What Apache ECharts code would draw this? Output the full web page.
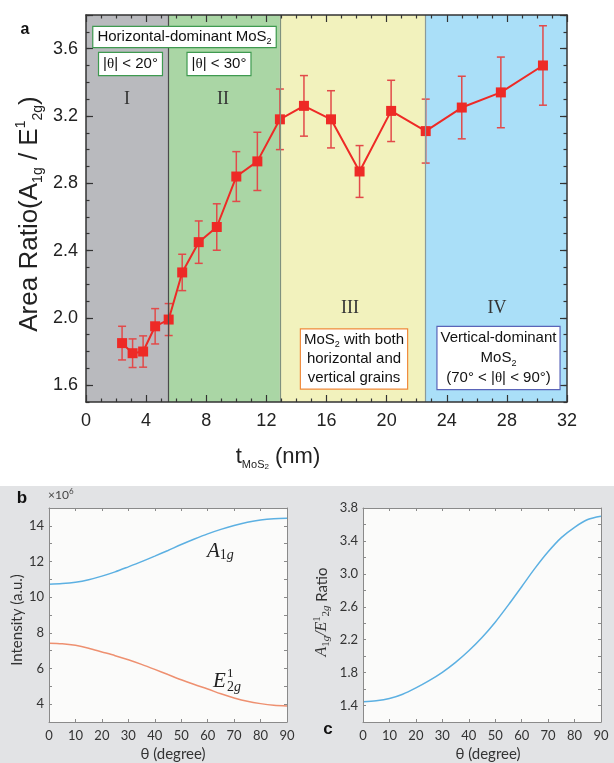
<!DOCTYPE html>
<html><head><meta charset="utf-8">
<script src="https://cdn.jsdelivr.net/npm/echarts@6/dist/echarts.min.js"></script>
<style>html,body{margin:0;padding:0;background:#fff}#c{width:614px;height:763px}</style>
</head><body><div id="c"></div>
<script>
// ---- Panel a data ----
const thickness = [2.4, 3.1, 3.8, 4.6, 5.5, 6.4, 7.5, 8.7, 10.0, 11.4, 12.9, 14.5, 16.3, 18.2, 20.3, 22.6, 25.0, 27.6, 30.4];
const areaRatio = [1.85, 1.79, 1.80, 1.95, 1.99, 2.27, 2.45, 2.54, 2.84, 2.93, 3.18, 3.26, 3.18, 2.87, 3.23, 3.11, 3.25, 3.34, 3.50];
const ratioErr  = [0.10, 0.085, 0.093, 0.105, 0.095, 0.108, 0.126, 0.138, 0.148, 0.173, 0.18, 0.18, 0.17, 0.154, 0.182, 0.19, 0.186, 0.21, 0.236];
const regionBounds = [0, 5.5, 12.9, 22.6, 32];
const regionNames = ['I', 'II', 'III', 'IV'];
// ---- Panel b / c data ----
const theta = [0, 5, 10, 15, 20, 25, 30, 35, 40, 45, 50, 55, 60, 65, 70, 75, 80, 85, 90];
const intensityA1g = [10.72, 10.76, 10.84, 10.98, 11.18, 11.42, 11.70, 11.99, 12.30, 12.62, 12.95, 13.26, 13.55, 13.80, 14.02, 14.20, 14.33, 14.40, 14.42];
const intensityE2g = [7.42, 7.39, 7.30, 7.14, 6.93, 6.72, 6.49, 6.23, 5.95, 5.66, 5.37, 5.10, 4.85, 4.58, 4.35, 4.16, 4.03, 3.94, 3.90];
const ratioTheta = [1.445, 1.457, 1.485, 1.538, 1.615, 1.703, 1.804, 1.925, 2.066, 2.227, 2.413, 2.623, 2.844, 3.066, 3.268, 3.44, 3.566, 3.66, 3.70];

// ---- styles ----
const regionFill = ['#b9babe', '#aad6a5', '#f2f2bd', '#aadff8'];
const regionLine = ['#4a4a4a', '#7f917f', '#8a9a9a'];
const ARIAL = '"Liberation Sans", Arial, sans-serif';
const SERIF = '"Liberation Serif", "Times New Roman", serif';
const CAL = 'Lato, "Open Sans", sans-serif';

const chart = echarts.init(document.getElementById('c'));

function frameAxis(grid, pos, extra) {
  return Object.assign({
    gridIndex: grid, position: pos, type: 'value', z: 10,
    axisLine: {show: true, onZero: false, lineStyle: {color: '#333', width: 1.5}},
    axisTick: {show: true, inside: true, length: 7, lineStyle: {color: '#333', width: 1.2}},
    axisLabel: {show: false}, splitLine: {show: false}
  }, extra);
}
function thinAxis(grid, pos, extra) {
  return Object.assign({
    gridIndex: grid, position: pos, type: 'value', z: 10,
    axisLine: {show: true, onZero: false, lineStyle: {color: '#8a8a8a', width: 1}},
    axisTick: {show: true, inside: true, length: 3, lineStyle: {color: '#8a8a8a', width: 1}},
    axisLabel: {show: false}, splitLine: {show: false}
  }, extra);
}
const minorA = {show: true, splitNumber: 4, length: 3.5, lineStyle: {color: '#333', width: 1.2}};
const shortTickA = {show: true, inside: true, length: 3.5, lineStyle: {color: '#333', width: 1.2}};
// tick overlay grid for panel a (spans 1.6 .. 3.8 of the main grid)
const plotH = 387, pxPerUnit = plotH / (3.8 - 1.5);

const option = {
  animation: false,
  backgroundColor: '#ffffff',
  grid: [
    {left: 86, top: 15, width: 481, height: plotH},
    {left: 49, top: 508, width: 238, height: 214, show: true, backgroundColor: '#fbfbfa', borderWidth: 0},
    {left: 363, top: 508, width: 238, height: 214, show: true, backgroundColor: '#fbfbfa', borderWidth: 0},
    {left: 86, top: 15, width: 481, height: (3.8 - 1.6) * pxPerUnit}
  ],
  xAxis: [
    frameAxis(0, 'bottom', {min: 0, max: 32, interval: 4, minorTick: minorA,
      axisLabel: {show: true, fontFamily: ARIAL, fontSize: 18, color: '#222', margin: 10}}),
    frameAxis(0, 'top', {min: 0, max: 32, interval: 4, minorTick: minorA}),
    thinAxis(1, 'bottom', {min: 0, max: 90, interval: 10,
      axisLabel: {show: true, fontFamily: CAL, fontSize: 13, color: '#333', margin: 7}}),
    thinAxis(1, 'top', {min: 0, max: 90, interval: 10}),
    thinAxis(2, 'bottom', {min: 0, max: 90, interval: 10,
      axisLabel: {show: true, fontFamily: CAL, fontSize: 13, color: '#333', margin: 7}}),
    thinAxis(2, 'top', {min: 0, max: 90, interval: 10}),
    {gridIndex: 3, type: 'value', min: 0, max: 32, show: false}
  ],
  yAxis: [
    frameAxis(0, 'left', {min: 1.5, max: 3.8, interval: 0.1, axisTick: shortTickA,
      axisLabel: {show: true, fontFamily: ARIAL, fontSize: 18, color: '#222', margin: 8,
        formatter: v => (Math.round(v * 10) % 4 === 0 ? v.toFixed(1) : '')}}),
    frameAxis(0, 'right', {min: 1.5, max: 3.8, interval: 0.1, axisTick: shortTickA}),
    frameAxis(3, 'left', {min: 1.6, max: 3.8, interval: 0.4, axisLine: {show: false, onZero: false}}),
    frameAxis(3, 'right', {min: 1.6, max: 3.8, interval: 0.4, axisLine: {show: false, onZero: false}}),
    thinAxis(1, 'left', {min: 3, max: 15, interval: 1,
      axisLabel: {show: true, fontFamily: CAL, fontSize: 13, color: '#333', margin: 5,
        formatter: v => (Math.round(v) % 2 === 0 ? String(Math.round(v)) : '')}}),
    thinAxis(1, 'right', {min: 3, max: 15, interval: 1}),
    thinAxis(2, 'left', {min: 1.2, max: 3.8, interval: 0.2,
      axisLabel: {show: true, fontFamily: CAL, fontSize: 13, color: '#333', margin: 5,
        formatter: v => (Math.round(v * 10) % 4 === 2 ? v.toFixed(1) : '')}}),
    thinAxis(2, 'right', {min: 1.2, max: 3.8, interval: 0.2})
  ],
  series: [
    {
      type: 'line', xAxisIndex: 0, yAxisIndex: 0, z: 1, silent: true,
      data: [[0, 1.5]], symbol: 'none', lineStyle: {opacity: 0},
      markArea: {silent: true, data: regionFill.map((c, i) => [
        {xAxis: regionBounds[i], itemStyle: {color: c, opacity: 1}}, {xAxis: regionBounds[i + 1]}])},
      markLine: {silent: true, symbol: 'none', label: {show: false},
        data: regionBounds.slice(1, 4).map((b, i) => ({xAxis: b, lineStyle: {color: regionLine[i], width: 1.2, type: 'solid'}}))}
    },
    {
      type: 'custom', xAxisIndex: 0, yAxisIndex: 0, z: 3,
      encode: {x: 0, y: [1, 2]},
      data: thickness.map((t, i) => [t, areaRatio[i] - ratioErr[i], areaRatio[i] + ratioErr[i]]),
      renderItem: function (params, api) {
        const x = api.value(0);
        const lo = api.coord([x, api.value(1)]);
        const hi = api.coord([x, api.value(2)]);
        const w = 4;
        const st = {stroke: '#e24a4a', lineWidth: 1.5};
        return {type: 'group', children: [
          {type: 'line', shape: {x1: lo[0], y1: lo[1], x2: hi[0], y2: hi[1]}, style: st},
          {type: 'line', shape: {x1: lo[0] - w, y1: lo[1], x2: lo[0] + w, y2: lo[1]}, style: st},
          {type: 'line', shape: {x1: hi[0] - w, y1: hi[1], x2: hi[0] + w, y2: hi[1]}, style: st}
        ]};
      }
    },
    {
      type: 'line', xAxisIndex: 0, yAxisIndex: 0, z: 4,
      data: thickness.map((t, i) => [t, areaRatio[i]]),
      symbol: 'rect', symbolSize: 10,
      itemStyle: {color: '#ee2a26'}, lineStyle: {color: '#ee2a26', width: 2}
    },
    {
      type: 'line', xAxisIndex: 2, yAxisIndex: 4, z: 4, smooth: 0.3, symbol: 'none',
      data: theta.map((t, i) => [t, intensityA1g[i]]),
      lineStyle: {color: '#5cb0e2', width: 1.5}
    },
    {
      type: 'line', xAxisIndex: 2, yAxisIndex: 4, z: 4, smooth: 0.3, symbol: 'none',
      data: theta.map((t, i) => [t, intensityE2g[i]]),
      lineStyle: {color: '#ee9070', width: 1.5}
    },
    {
      type: 'line', xAxisIndex: 4, yAxisIndex: 6, z: 4, smooth: 0.3, symbol: 'none',
      data: theta.map((t, i) => [t, ratioTheta[i]]),
      lineStyle: {color: '#5cb0e2', width: 1.5}
    }
  ],
  graphic: [
    {type: 'rect', z: -10, silent: true, shape: {x: 0, y: 486, width: 614, height: 277}, style: {fill: '#e2e3e5'}},
    // panel letters
    {type: 'text', z: 100, x: 25, y: 30, style: {text: 'a', font: 'bold 16px ' + ARIAL, fill: '#111', align: 'center', verticalAlign: 'middle'}},
    {type: 'text', z: 100, x: 22, y: 498, style: {text: 'b', font: 'bold 17px ' + ARIAL, fill: '#111', align: 'center', verticalAlign: 'middle'}},
    {type: 'text', z: 100, x: 328, y: 729, style: {text: 'c', font: 'bold 17px ' + ARIAL, fill: '#111', align: 'center', verticalAlign: 'middle'}},
    // panel a axis titles
    {type: 'text', z: 100, x: 30, y: 214, rotation: Math.PI / 2, style: {
      text: '{m|Area Ratio(A}{s|1g}{m| / E}{p|1}{s|2g}{m|)}', align: 'center', verticalAlign: 'middle', fill: '#222',
      rich: {
        m: {fontFamily: ARIAL, fontSize: 26, lineHeight: 31, verticalAlign: 'middle', fill: '#222'},
        s: {fontFamily: ARIAL, fontSize: 14, lineHeight: 14, verticalAlign: 'bottom', fill: '#222'},
        p: {fontFamily: ARIAL, fontSize: 14, lineHeight: 14, verticalAlign: 'top', fill: '#222'}
      }}},
    {type: 'text', z: 100, x: 278, y: 457, style: {
      text: '{m|t}{s|MoS}{ss|2}{m| (nm)}', align: 'center', verticalAlign: 'middle', fill: '#222',
      rich: {
        m: {fontFamily: ARIAL, fontSize: 22, lineHeight: 28, verticalAlign: 'middle', fill: '#222'},
        s: {fontFamily: ARIAL, fontSize: 11, lineHeight: 11, verticalAlign: 'bottom', padding: [0, 0, 1, 0], fill: '#222'},
        ss: {fontFamily: ARIAL, fontSize: 8, lineHeight: 8, verticalAlign: 'bottom', fill: '#222'}
      }}},
    // annotation boxes
    {type: 'text', z: 100, x: 184.5, y: 37, style: {
      text: '{m|Horizontal-dominant MoS}{s|2}', align: 'center', verticalAlign: 'middle',
      backgroundColor: '#fff', borderColor: '#3f9a50', borderWidth: 1.2, padding: [1, 4, 1, 4],
      rich: {m: {fontFamily: ARIAL, fontSize: 15, lineHeight: 18, fill: '#111'},
             s: {fontFamily: ARIAL, fontSize: 9, lineHeight: 9, verticalAlign: 'bottom', fill: '#111'}}}},
    {type: 'text', z: 100, x: 130.5, y: 64, style: {
      text: '{m||}{t|θ}{m|| < 20°}', align: 'center', verticalAlign: 'middle',
      backgroundColor: '#fff', borderColor: '#3f9a50', borderWidth: 1.2, padding: [2, 4, 2, 4],
      rich: {m: {fontFamily: ARIAL, fontSize: 15, lineHeight: 18, fill: '#111'},
             t: {fontFamily: SERIF, fontSize: 15, lineHeight: 18, fill: '#111'}}}},
    {type: 'text', z: 100, x: 219, y: 64, style: {
      text: '{m||}{t|θ}{m|| < 30°}', align: 'center', verticalAlign: 'middle',
      backgroundColor: '#fff', borderColor: '#3f9a50', borderWidth: 1.2, padding: [2, 4, 2, 4],
      rich: {m: {fontFamily: ARIAL, fontSize: 15, lineHeight: 18, fill: '#111'},
             t: {fontFamily: SERIF, fontSize: 15, lineHeight: 18, fill: '#111'}}}},
    {type: 'text', z: 100, x: 354, y: 359, style: {
      text: '{m|MoS}{s|2}{m| with both}\n{m|horizontal and}\n{m|vertical grains}', align: 'center', verticalAlign: 'middle',
      backgroundColor: '#fff', borderColor: '#f08a3c', borderWidth: 1.2, padding: [1, 3, 1, 3],
      rich: {m: {fontFamily: ARIAL, fontSize: 15, lineHeight: 19, fill: '#111', align: 'center'},
             s: {fontFamily: ARIAL, fontSize: 9, lineHeight: 9, verticalAlign: 'bottom', fill: '#111'}}}},
    {type: 'text', z: 100, x: 498.5, y: 358, style: {
      text: '{m|Vertical-dominant}\n{m|MoS}{s|2}\n{m|(70° < |}{t|θ}{m|| < 90°)}', align: 'center', verticalAlign: 'middle',
      backgroundColor: '#fff', borderColor: '#5a64b8', borderWidth: 1.2, padding: [1, 3, 1, 3],
      rich: {m: {fontFamily: ARIAL, fontSize: 15, lineHeight: 20, fill: '#111', align: 'center'},
             t: {fontFamily: SERIF, fontSize: 15, lineHeight: 20, fill: '#111', align: 'center'},
             s: {fontFamily: ARIAL, fontSize: 9, lineHeight: 9, verticalAlign: 'bottom', fill: '#111'}}}},
    // roman numerals
    {type: 'text', z: 100, x: 127, y: 99, style: {text: regionNames[0], font: '18px ' + SERIF, fill: '#333', align: 'center', verticalAlign: 'middle'}},
    {type: 'text', z: 100, x: 223, y: 99, style: {text: regionNames[1], font: '18px ' + SERIF, fill: '#333', align: 'center', verticalAlign: 'middle'}},
    {type: 'text', z: 100, x: 350, y: 308, style: {text: regionNames[2], font: '18px ' + SERIF, fill: '#333', align: 'center', verticalAlign: 'middle'}},
    {type: 'text', z: 100, x: 497, y: 308, style: {text: regionNames[3], font: '18px ' + SERIF, fill: '#333', align: 'center', verticalAlign: 'middle'}},
    // panel b texts
    {type: 'text', z: 100, x: 48, y: 495, style: {
      text: '{m|×10}{p|6}', align: 'left', verticalAlign: 'middle',
      rich: {m: {fontFamily: CAL, fontSize: 12, lineHeight: 15, fill: '#444'},
             p: {fontFamily: CAL, fontSize: 8, lineHeight: 8, verticalAlign: 'top', fill: '#444'}}}},
    {type: 'text', z: 100, x: 17, y: 620, rotation: Math.PI / 2, style: {
      text: 'Intensity (a.u.)', font: '15px ' + CAL, fill: '#333', align: 'center', verticalAlign: 'middle'}},
    {type: 'text', z: 100, x: 173, y: 754, style: {
      text: 'θ (degree)', font: '15px ' + CAL, fill: '#333', align: 'center', verticalAlign: 'middle'}},
    {type: 'text', z: 100, x: 207, y: 551, style: {
      text: '{m|A}{s|1}{g|g}', align: 'left', verticalAlign: 'middle',
      rich: {m: {fontFamily: SERIF, fontStyle: 'italic', fontSize: 21, lineHeight: 22, fill: '#222'},
             s: {fontFamily: SERIF, fontSize: 14, lineHeight: 14, verticalAlign: 'bottom', fill: '#222'},
             g: {fontFamily: SERIF, fontStyle: 'italic', fontSize: 14, lineHeight: 14, verticalAlign: 'bottom', fill: '#222'}}}},
    {type: 'text', z: 100, x: 213, y: 681, style: {
      text: 'E', font: 'italic 21px ' + SERIF, fill: '#222', align: 'left', verticalAlign: 'middle'}},
    {type: 'text', z: 100, x: 227, y: 674, style: {
      text: '1', font: '13px ' + SERIF, fill: '#222', align: 'left', verticalAlign: 'middle'}},
    {type: 'text', z: 100, x: 227, y: 687, style: {
      text: '{s|2}{g|g}', align: 'left', verticalAlign: 'middle',
      rich: {s: {fontFamily: SERIF, fontSize: 14, fill: '#222'},
             g: {fontFamily: SERIF, fontStyle: 'italic', fontSize: 14, fill: '#222'}}}},
    // panel c texts
    {type: 'text', z: 100, x: 488, y: 754, style: {
      text: 'θ (degree)', font: '15px ' + CAL, fill: '#333', align: 'center', verticalAlign: 'middle'}},
    {type: 'text', z: 100, x: 322, y: 612, rotation: Math.PI / 2, style: {
      text: '{m|A}{s|1}{g|g}{m|/E}{p|1}{s|2}{g|g}{r| Ratio}', align: 'center', verticalAlign: 'middle',
      rich: {m: {fontFamily: SERIF, fontStyle: 'italic', fontSize: 16, lineHeight: 20, fill: '#333'},
             s: {fontFamily: SERIF, fontSize: 11, lineHeight: 11, verticalAlign: 'bottom', fill: '#333'},
             g: {fontFamily: SERIF, fontStyle: 'italic', fontSize: 11, lineHeight: 11, verticalAlign: 'bottom', fill: '#333'},
             p: {fontFamily: SERIF, fontSize: 10, lineHeight: 10, verticalAlign: 'top', fill: '#333'},
             r: {fontFamily: CAL, fontSize: 15, lineHeight: 20, fill: '#333'}}}}
  ]
};
chart.setOption(option);
</script>
</body></html>
